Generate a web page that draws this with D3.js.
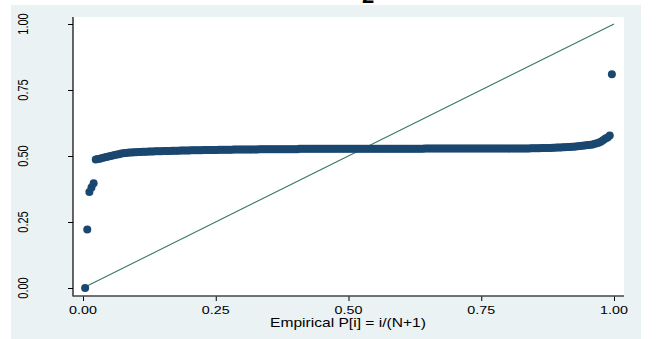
<!DOCTYPE html>
<html>
<head>
<meta charset="utf-8">
<script src="https://cdn.jsdelivr.net/npm/d3@7"></script>
<style>
  html, body { margin: 0; padding: 0; background: #ffffff; }
  svg { display: block; }
  text { font-family: "Liberation Sans", Arial, Helvetica, sans-serif; fill: #000; }
</style>
</head>
<body>
<svg id="chart" width="667" height="339"></svg>
<script>
// ---- data ----
const xTicks = [0, 0.25, 0.5, 0.75, 1];
const yTicks = [0, 0.25, 0.5, 0.75, 1];
const xTickLabels = ["0.00", "0.25", "0.50", "0.75", "1.00"];
const yTickLabels = ["0.00", "0.25", "0.50", "0.75", "1.00"];
const xTitle = "Empirical P[i] = i/(N+1)";
const topTitle = "2";
// Normal F[(x-m)/s] for each ordered observation i = 1..N
const normalF = [
  0.000,0.222,0.364,0.381,0.397,
  0.487,0.489,0.490,0.492,0.494,0.496,0.498,0.500,0.502,0.504,0.506,0.507,0.509,0.510,0.511,
  0.512,0.513,0.513,0.514,0.514,0.515,0.515,0.516,0.516,0.516,
  0.517,0.517,0.517,0.518,0.518,0.518,0.518,0.519,0.519,0.519,
  0.519,0.520,0.520,0.520,0.520,0.521,0.521,0.521,0.521,0.521,
  0.522,0.522,0.522,0.522,0.522,0.522,0.523,0.523,0.523,0.523,
  0.523,0.523,0.523,0.524,0.524,0.524,0.524,0.524,0.524,0.524,
  0.525,0.525,0.525,0.525,0.525,0.525,0.525,0.525,0.525,0.525,
  0.525,0.525,0.526,0.526,0.526,0.526,0.526,0.526,0.526,0.526,
  0.526,0.526,0.526,0.526,0.526,0.526,0.526,0.526,0.526,0.526,
  0.526,0.527,0.527,0.527,0.527,0.527,0.527,0.527,0.527,0.527,
  0.527,0.527,0.527,0.527,0.527,0.527,0.527,0.527,0.527,0.527,
  0.527,0.527,0.527,0.527,0.527,0.527,0.527,0.527,0.527,0.527,
  0.527,0.527,0.527,0.527,0.527,0.527,0.527,0.527,0.527,0.527,
  0.527,0.527,0.527,0.527,0.527,0.527,0.527,0.527,0.527,0.527,
  0.527,0.527,0.527,0.527,0.527,0.527,0.527,0.527,0.527,0.527,
  0.528,0.528,0.528,0.528,0.528,0.528,0.528,0.528,0.528,0.528,
  0.528,0.528,0.528,0.528,0.528,0.528,0.528,0.528,0.528,0.528,
  0.528,0.528,0.528,0.528,0.528,0.528,0.528,0.528,0.528,0.528,
  0.528,0.528,0.528,0.528,0.528,0.528,0.528,0.528,0.528,0.528,
  0.528,0.528,0.528,0.528,0.528,0.528,0.528,0.528,0.528,0.528,
  0.529,0.529,0.529,0.529,0.529,0.530,0.530,0.530,0.530,0.530,
  0.531,0.531,0.532,0.532,0.532,
  0.533,0.533,0.534,0.534,0.535,0.535,0.536,0.537,0.538,0.539,0.540,0.541,0.542,0.543,0.544,
  0.546,0.548,0.551,0.555,0.561,0.566,0.570,0.578,0.810
];
const refLine = [[0, 0], [1, 1]];

// ---- drawing ----
const svg = d3.select("#chart");
const frame = { left: 73, right: 624, top: 17, bottom: 296 };
const x = d3.scaleLinear().domain([0, 1]).range([83, 614]);
const y = d3.scaleLinear().domain([0, 1]).range([288, 24]);
const N = normalF.length;
const points = normalF.map((v, i) => ({ p: (i + 1) / (N + 1), f: v }));

// outer background
svg.append("rect").attr("x", 11).attr("y", 5).attr("width", 630).attr("height", 340)
  .attr("fill", "#eaf2f3");
// plot region
svg.append("rect").attr("x", frame.left).attr("y", frame.top)
  .attr("width", frame.right - frame.left).attr("height", frame.bottom - frame.top)
  .attr("fill", "#ffffff");

// clipped top title
svg.append("text").attr("x", 368).attr("y", 3).attr("text-anchor", "middle")
  .attr("font-family", "DejaVu Serif, serif").attr("font-weight", "bold")
  .attr("font-size", 22).text(topTitle);

// reference line
svg.append("path")
  .attr("d", d3.line().x(d => x(d[0])).y(d => y(d[1]))(refLine))
  .attr("fill", "none").attr("stroke", "#37786b").attr("stroke-width", 1.1);

// points
svg.append("g").selectAll("circle").data(points).join("circle")
  .attr("cx", d => x(d.p)).attr("cy", d => y(d.f)).attr("r", 4)
  .attr("fill", "#1a476f");

// axes via d3 axis generators (ticks only)
const gx = svg.append("g").attr("transform", `translate(0,${frame.bottom})`)
  .call(d3.axisBottom(x).tickValues(xTicks).tickSize(5).tickSizeOuter(0).tickFormat(""));
gx.select(".domain").remove();
gx.selectAll("line").attr("stroke", "#000");

const gy = svg.append("g").attr("transform", `translate(${frame.left},0)`)
  .call(d3.axisLeft(y).tickValues(yTicks).tickSize(5).tickSizeOuter(0).tickFormat(""));
gy.select(".domain").remove();
gy.selectAll("line").attr("stroke", "#000");

// axis lines
svg.append("line").attr("x1", frame.left).attr("x2", frame.left)
  .attr("y1", frame.top).attr("y2", frame.bottom + 0.5)
  .attr("stroke", "#000").attr("stroke-width", 1.2);
svg.append("line").attr("x1", frame.left).attr("x2", frame.right)
  .attr("y1", frame.bottom).attr("y2", frame.bottom)
  .attr("stroke", "#444").attr("stroke-width", 1.4);

// tick labels
svg.append("g").selectAll("text").data(xTicks).join("text")
  .attr("transform", d => `translate(${x(d)},313.5) scale(1.3,1)`)
  .attr("text-anchor", "middle").attr("font-size", 11)
  .text((d, i) => xTickLabels[i]);

svg.append("g").selectAll("text").data(yTicks).join("text")
  .attr("transform", d => `translate(28,${y(d)}) scale(1.3,1) rotate(-90)`)
  .attr("text-anchor", "middle").attr("font-size", 11)
  .text((d, i) => yTickLabels[i]);

// x axis title
svg.append("text").attr("transform", "translate(348,327.3) scale(1.3,1)")
  .attr("text-anchor", "middle").attr("font-size", 12).text(xTitle);
</script>
</body>
</html>
